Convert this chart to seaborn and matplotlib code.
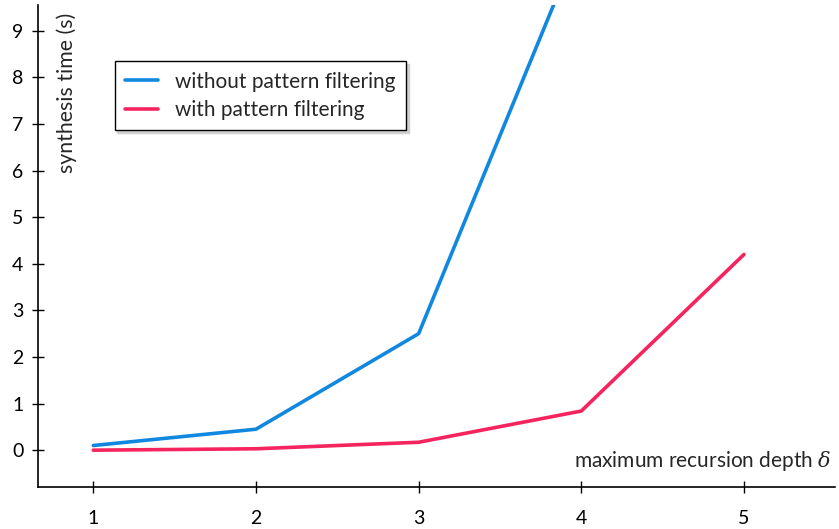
import pandas as pd
import matplotlib.pyplot as plt
import seaborn as sns

# values
depth = [1, 2, 3, 4, 5]
without_filter = [0.1, 0.45, 2.5, 11.0, None]
with_filter = [0.0, 0.03, 0.17, 0.84, 4.2]

sns.set_style('ticks')
plt.rcParams['font.family'] = ['Lato', 'DejaVu Sans']
plt.rcParams['mathtext.fontset'] = 'dejavuserif'

df = pd.concat([
    pd.DataFrame({'depth': depth, 'time': without_filter, 'method': 'without pattern filtering'}),
    pd.DataFrame({'depth': depth, 'time': with_filter, 'method': 'with pattern filtering'}),
]).dropna()

fig = plt.figure(figsize=(8.39, 5.29), dpi=100)
ax = fig.add_axes([0.0453, 0.0794, 0.95, 0.911])
sns.lineplot(data=df, x='depth', y='time', hue='method', ax=ax, linewidth=2.6,
             palette={'without pattern filtering': '#1188e0', 'with pattern filtering': '#f5245f'})

ax.set_xlim(0.66, 5.56)
ax.set_ylim(-0.79, 9.55)
ax.set_xticks(depth)
ax.set_yticks(range(10))
ax.tick_params(direction='inout', length=9, width=1, labelsize=14, colors='black')
ax.tick_params(axis='x', pad=12)
ax.tick_params(axis='y', pad=6)
sns.despine(ax=ax)
for s in ['left', 'bottom']:
    ax.spines[s].set_linewidth(1.2)
    ax.spines[s].set_color('black')
ax.set_xlabel('')
ax.set_ylabel('')

ax.text(0.036, 0.985, 'synthesis time (s)', transform=ax.transAxes, rotation=90,
        ha='center', va='top', fontsize=15.3)
ax.text(0.995, 0.03, 'maximum recursion depth $\\mathit{\\delta}$', transform=ax.transAxes,
        ha='right', va='bottom', fontsize=15)

leg = ax.legend(loc='upper left', bbox_to_anchor=(0.083, 0.905), fontsize=15, frameon=True,
                fancybox=False, shadow={'color': '#d0d0d0', 'alpha': 1}, edgecolor='black',
                handlelength=1.6, handletextpad=0.8, borderpad=0.5, labelspacing=0.4)
leg.get_frame().set_linewidth(1)

fig.savefig('out.png', dpi=100)
